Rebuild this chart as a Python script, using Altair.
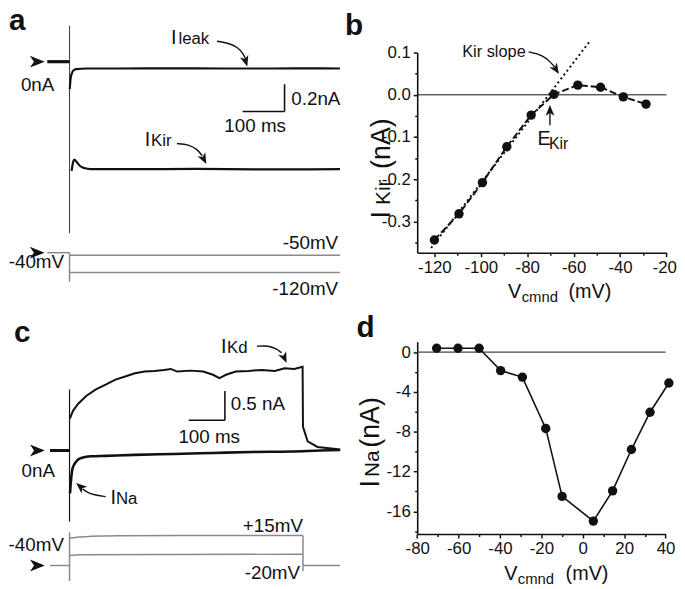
import altair as alt
import pandas as pd

FONT = "Liberation Sans"
INK = "#111111"
GREY = "#8a8a8a"

# ======================= DATA =======================
# ---- panel a : currents (ms from step onset, nA) and command steps (mV)
a_pre_t = [-53, 0]
a_pre_i = [0.0, 0.0]
a_leak_t = [0.6, 2.3, 4.7, 9.3, 16, 40, 120, 240, 360, 480, 600, 644]
a_leak_i = [-0.200, -0.129, -0.093, -0.064, -0.054, -0.050, -0.050, -0.049, -0.050, -0.050, -0.049, -0.050]
a_kir_t = [5, 9, 12, 17, 25, 35, 50, 150, 300, 450, 644]
a_kir_i = [-0.800, -0.730, -0.718, -0.735, -0.765, -0.780, -0.788, -0.788, -0.786, -0.790, -0.788]
a_artifact_i = [0.264, -1.257]
a_hold_mv = -40
a_step_mv = [-50, -120]
a_step_t = [0, 644]
a_pre_cmd_t = [-53, 0]
a_cmd_artifact_mv = [-40, -158]
a_bar_t = [412, 512]
a_bar_i = [-0.365, -0.165]

# ---- panel b : Kir I-V
b_vcmd = [-120.0, -109.4, -99.3, -88.8, -78.3, -68.5, -58.2, -48.4, -38.6, -28.8]
b_ikir = [-0.344, -0.282, -0.208, -0.123, -0.048, 0.001, 0.023, 0.018, -0.005, -0.022]
b_slope_v = [-121.4, -53.3]
b_slope_i = [-0.363, 0.125]
b_ekir_mv = -70.2

# ---- panel c : currents (ms, nA) and command steps (mV)
c_pre_t = [-54, 0]
c_pre_i = [0.017, 0.017]
c_kd_t = [0.8, 10, 23.5, 46, 73, 100, 127, 154, 181, 208, 235, 262, 280, 298, 334, 370, 397,
          415, 433, 460, 496, 532, 568, 595, 622, 645, 646, 659, 686, 731, 749]
c_kd_i = [0.562, 0.700, 0.812, 0.950, 1.062, 1.145, 1.228, 1.283, 1.338, 1.367, 1.378, 1.395,
          1.412, 1.367, 1.383, 1.367, 1.312, 1.255, 1.312, 1.367, 1.378, 1.395, 1.378, 1.422,
          1.412, 1.450, 0.422, 0.172, 0.078, 0.045, 0.033]
c_na_t = [1.4, 4, 8, 13.5, 21.6, 35, 59, 100, 181, 289, 397, 505, 614, 695, 749]
c_na_i = [-0.717, -0.500, -0.300, -0.217, -0.150, -0.108, -0.083, -0.075, -0.058, -0.042,
          -0.025, -0.008, 0.000, 0.017, 0.025]
c_artifact_i = [1.06, -1.2]
c_hi_t = [0.5, 20, 60, 150, 300, 646]
c_hi_mv = [9.0, 11.0, 12.5, 13.5, 14.0, 14.2]
c_lo_t = [0.5, 30, 646]
c_lo_mv = [-22.0, -20.5, -19.8]
c_hold_mv = -40
c_pre_cmd_t = [-54, 0]
c_post_cmd_t = [646, 749]
c_on_artifact_mv = [19.6, -68]
c_off_artifact_mv = [14.2, -50.5]
c_bar_t = [330, 430]
c_bar_i = [0.533, 1.033]

# ---- panel d : Na I-V
d_vcmd = [-70.6, -60.3, -50.1, -39.7, -29.2, -17.9, -10.0, 5.1, 14.4, 23.5, 32.5, 41.6]
d_ina = [0.39, 0.39, 0.39, -1.86, -2.51, -7.67, -14.5, -16.98, -13.94, -9.79, -6.04, -3.10]

# ======================= LAYOUT =======================
W, H = 676, 580
KX, KY = W / 685, H / 589


def hs(lo, hi, p0, p1):
    return alt.Scale(domain=[lo, hi], range=[p0 * KX, p1 * KX], nice=False, zero=False)


def vs(lo, hi, p0, p1):
    return alt.Scale(domain=[lo, hi], range=[p0 * KY, p1 * KY], nice=False, zero=False)


A_T = hs(-150, 650, -1.5, 342.5)
A_I = vs(-1.6, 0.4, 276, -4)
A_V = vs(-160, -40, 278.36, 248)
C_T = hs(-170, 750, 0.1, 340.5)
C_I = vs(-2.2, 2.2, 584, 320)
C_V = vs(-80, 40, 591.8, 523.4)
B_X = hs(-127.4, -20, 419, 674.2)
B_Y = vs(-0.3741, 0.1, 248, 42.7)
D_X = hs(-80, 40, 419, 673.3)
D_Y = vs(-18.28, 1.05, 536.7, 339.3)

DART = "M1,0L-1,-0.8L-0.45,0L-1,0.8Z"
layers = []


def XY(xs, ys, xaxis=None, yaxis=None):
    return dict(x=alt.X("x:Q", scale=xs, axis=xaxis), y=alt.Y("y:Q", scale=ys, axis=yaxis))


def line(xv, yv, xs, ys, color=INK, width=1.6, dash=None, interp="linear", xaxis=None, yaxis=None):
    df = pd.DataFrame({"x": xv, "y": yv, "o": list(range(len(xv)))})
    m = dict(color=color, strokeWidth=width, interpolate=interp)
    if dash:
        m["strokeDash"] = dash
    layers.append(alt.Chart(df).mark_line(**m).encode(order="o:Q", **XY(xs, ys, xaxis, yaxis)))


def vrule(x, y1, y2, xs, ys, color=INK, width=1.5):
    df = pd.DataFrame({"x": [x], "y": [y1], "y2": [y2]})
    layers.append(alt.Chart(df).mark_rule(color=color, strokeWidth=width).encode(
        y2="y2:Q", **XY(xs, ys)))


def hrule(x1, x2, y, xs, ys, color=INK, width=1.5, xaxis=None, yaxis=None):
    df = pd.DataFrame({"x": [x1], "x2": [x2], "y": [y]})
    layers.append(alt.Chart(df).mark_rule(color=color, strokeWidth=width).encode(
        x2="x2:Q", **XY(xs, ys, xaxis, yaxis)))


def text(rows, xs, ys, size, align="left", baseline="alphabetic", angle=0, weight="normal"):
    df = pd.DataFrame(rows, columns=["text", "x", "y"])
    m = dict(font=FONT, fontSize=size, align=align, baseline=baseline, fontWeight=weight, color=INK)
    if angle:
        m["angle"] = angle
    layers.append(alt.Chart(df).mark_text(**m).encode(text="text:N", **XY(xs, ys)))


def heads(rows, xs, ys, size):
    df = pd.DataFrame(rows, columns=["x", "y", "a"])
    layers.append(alt.Chart(df).mark_point(shape=DART, filled=True, size=size, color=INK,
                                           opacity=1, strokeWidth=0).encode(
        angle=alt.Angle("a:Q", scale=None), **XY(xs, ys)))


def num_axis(orient, offset, values, decimals, labels=True, tick=4.0, flush=False):
    sign = "(datum.value < -1e-9 ? '-' : '')"
    expr = f"{sign} + format(abs(datum.value), '.{decimals}f')"
    kw = dict(orient=orient, offset=offset, values=values, title=None, grid=False,
              tickSize=tick, tickWidth=1.5, tickColor=INK, domainColor=INK, domainWidth=1.6,
              labelFont=FONT, labelFontSize=17, labelColor=INK, labelFlush=flush,
              labelOverlap=False, labelPadding=3)
    if flush:
        kw["labelFlushOffset"] = 10
    if labels:
        kw["labelExpr"] = expr
    else:
        kw["labels"] = False
        kw["domain"] = False
    return alt.Axis(**kw)


# ---------------- panel a ----------------
line(a_pre_cmd_t, [a_hold_mv] * 2, A_T, A_V, color=GREY, width=1.5)
for lvl in a_step_mv:
    line(a_step_t, [lvl] * 2, A_T, A_V, color=GREY, width=1.5)
vrule(0, a_cmd_artifact_mv[0], a_cmd_artifact_mv[1], A_T, A_V, color=GREY, width=1.5)
vrule(0, a_artifact_i[0], a_artifact_i[1], A_T, A_I, color="#444444", width=1.1)
line(a_pre_t, a_pre_i, A_T, A_I, width=3.2)
line(a_leak_t, a_leak_i, A_T, A_I, width=2.2, interp="monotone")
line(a_kir_t, a_kir_i, A_T, A_I, width=2.2, interp="monotone")
hrule(a_bar_t[0], a_bar_t[1], a_bar_i[0], A_T, A_I, width=1.6)
vrule(a_bar_t[1], a_bar_i[0], a_bar_i[1], A_T, A_I, width=1.6)
line([351, 379, 400, 414, 419], [0.150, 0.136, 0.107, 0.057, 0.02], A_T, A_I, width=1.4, interp="basis")
line([255.8, 283.7, 304.7, 316], [-0.600, -0.607, -0.643, -0.690], A_T, A_I, width=1.4, interp="basis")
heads([(419.5, 0.002, 73), (319.8, -0.714, 63)], A_T, A_I, 121)
heads([(-76.7, 0.0, 0)], A_T, A_I, 225)
heads([(-77, -40, 0)], A_T, A_V, 225)
text([("a", -144.2, 0.229)], A_T, A_I, 30, weight="bold")
text([("0nA", -76, -0.171), ("100 ms", 442, -0.471)], A_T, A_I, 19, align="center", baseline="middle")
text([("0.2nA", 528, -0.271)], A_T, A_I, 19, baseline="middle")
text([("I", 241.9, 0.129), ("I", 179, -0.621)], A_T, A_I, 20)
text([("leak", 259.3, 0.129), ("Kir", 194.2, -0.621)], A_T, A_I, 17)
text([("-40mV", -79, -79.5)], A_T, A_V, 19, align="center", baseline="middle")
text([("-50mV", 639.5, -0.5), ("-120mV", 639.5, -186)], A_T, A_V, 19, align="right", baseline="middle")

# ---------------- panel c ----------------
line(c_pre_cmd_t, [c_hold_mv] * 2, C_T, C_V, color=GREY, width=1.5)
line(c_post_cmd_t, [c_hold_mv] * 2, C_T, C_V, color=GREY, width=1.5)
line(c_hi_t, c_hi_mv, C_T, C_V, color=GREY, width=1.5, interp="monotone")
line(c_lo_t, c_lo_mv, C_T, C_V, color=GREY, width=1.5, interp="monotone")
vrule(0, c_on_artifact_mv[0], c_on_artifact_mv[1], C_T, C_V, color=GREY, width=1.5)
vrule(646, c_off_artifact_mv[0], c_off_artifact_mv[1], C_T, C_V, color=GREY, width=1.5)
vrule(0, c_artifact_i[0], c_artifact_i[1], C_T, C_I, color=INK, width=1.2)
line(c_pre_t, c_pre_i, C_T, C_I, width=3.0)
line(c_kd_t, c_kd_i, C_T, C_I, width=2.0)
line(c_na_t, c_na_i, C_T, C_I, width=2.6, interp="monotone")
hrule(c_bar_t[0], c_bar_t[1], c_bar_i[0], C_T, C_I, width=1.6)
vrule(c_bar_t[1], c_bar_i[0], c_bar_i[1], C_T, C_I, width=1.6)
line([519, 550.5, 573, 586.5], [1.80, 1.812, 1.755, 1.688], C_T, C_I, width=1.4, interp="basis")
line([100, 68.4, 46, 36], [-0.772, -0.745, -0.688, -0.640], C_T, C_I, width=1.4, interp="basis")
heads([(594.6, 1.60, 66), (29.7, -0.60, 220)], C_T, C_I, 121)
heads([(-89, 0.017, 0)], C_T, C_I, 225)
heads([(-89, -40, 0)], C_T, C_V, 225)
text([("c", -154, 1.867)], C_T, C_I, 30, weight="bold")
text([("0nA", -86.5, -0.333), ("100 ms", 386.5, 0.25)], C_T, C_I, 19, align="center", baseline="middle")
text([("0.5 nA", 446, 0.817)], C_T, C_I, 19, baseline="middle")
text([("I", 418.9, 1.683), ("I", 113.5, -0.90)], C_T, C_I, 20)
text([("Kd", 436, 1.683), ("Na", 128.5, -0.90)], C_T, C_I, 17)
text([("-40mV", -92, -3.2)], C_T, C_V, 19, align="center", baseline="middle")
text([("+15mV", 646, 31.9), ("-20mV", 638, -54)], C_T, C_V, 19, align="right", baseline="middle")

# ---------------- panel b ----------------
hrule(-127.4, -20, 0, B_X, B_Y, width=1.0,
      xaxis=num_axis("bottom", 248 * KY - H, [-110, -90, -70, -50, -30], 0, labels=False, tick=2.5),
      yaxis=num_axis("left", -419 * KX, [0.05, -0.05, -0.15, -0.25, -0.35], 1, labels=False, tick=2.5))
line(b_slope_v, b_slope_i, B_X, B_Y, width=2.0, dash=[2, 3])
line(b_vcmd, b_ikir, B_X, B_Y, width=2.0, dash=[7, 3])
layers.append(alt.Chart(pd.DataFrame({"x": b_vcmd, "y": b_ikir})).mark_circle(
    size=90, color=INK, opacity=1).encode(
    **XY(B_X, B_Y,
         num_axis("bottom", 248 * KY - H, [-120, -100, -80, -60, -40, -20], 0, flush=True),
         num_axis("left", -419 * KX, [0.1, 0.0, -0.1, -0.2, -0.3], 1))))
vrule(b_ekir_mv, -0.072, -0.042, B_X, B_Y, width=1.4)
line([-79.4, -73.5, -69.7, -68.2], [0.1016, 0.0947, 0.076, 0.066], B_X, B_Y, width=1.4, interp="basis")
heads([(b_ekir_mv, -0.037, 270), (-67.6, 0.060, 58)], B_X, B_Y, 121)
text([("b", -158.5, 0.141)], B_X, B_Y, 30, weight="bold")
text([("Kir slope", -108.0, 0.090)], B_X, B_Y, 16.5)
text([("E", -75.6, -0.118), ("V", -88.3, -0.481), ("(mV)", -62.2, -0.481)], B_X, B_Y, 20)
text([("Kir", -70.6, -0.129)], B_X, B_Y, 16)
text([("cmnd", -82.4, -0.491)], B_X, B_Y, 15)
text([("I", -139.2, -0.2933), ("(nA)", -139.2, -0.1755)], B_X, B_Y, 27, angle=270)
text([("Kir", -139.2, -0.261)], B_X, B_Y, 21, angle=270)

# ---------------- panel d ----------------
hrule(-80, 40, 0, D_X, D_Y, color="#444444", width=1.2,
      xaxis=num_axis("bottom", 536.7 * KY - H, [-70, -50, -30, -10, 10, 30], 0, labels=False, tick=2.5),
      yaxis=num_axis("left", -419 * KX, [-2, -6, -10, -14, -18], 0, labels=False, tick=2.5))
line(d_vcmd, d_ina, D_X, D_Y, width=1.6)
layers.append(alt.Chart(pd.DataFrame({"x": d_vcmd, "y": d_ina})).mark_circle(
    size=90, color=INK, opacity=1).encode(
    **XY(D_X, D_Y,
         num_axis("bottom", 536.7 * KY - H, [-80, -60, -40, -20, 0, 20, 40], 0),
         num_axis("left", -419 * KX, [0, -4, -8, -12, -16], 0))))
text([("d", -109.3, 1.47)], D_X, D_Y, 30, weight="bold")
text([("V", -38.0, -22.92), ("(mV)", -8.3, -22.92)], D_X, D_Y, 20)
text([("cmnd", -31.4, -23.31)], D_X, D_Y, 15)
text([("I", -98.4, -13.61), ("(nA)", -98.4, -9.60)], D_X, D_Y, 27, angle=270)
text([("Na", -98.4, -12.54)], D_X, D_Y, 21, angle=270)

chart = alt.layer(*layers).resolve_scale(x="independent", y="independent").properties(
    width=W, height=H, padding=0, autosize=alt.AutoSizeParams(type="none"),
    background="white").configure_view(stroke=None)

chart.save("out.html", embed_options={"renderer": "svg", "actions": False})
